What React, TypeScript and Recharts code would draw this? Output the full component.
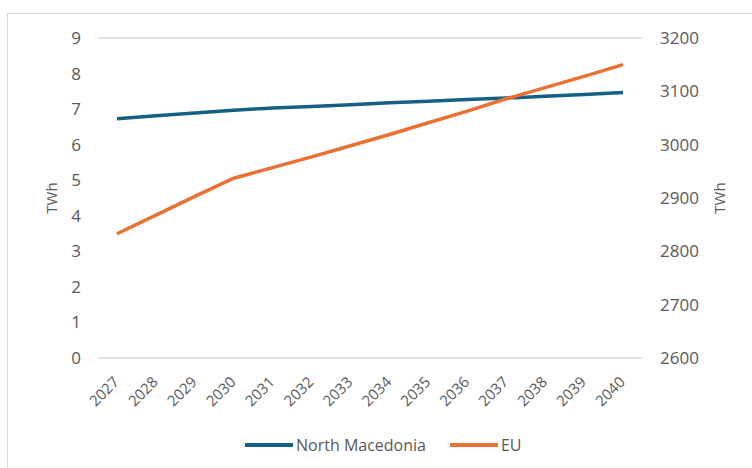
import React from "react";
import { LineChart, Line, XAxis, YAxis, CartesianGrid, Label } from "recharts";

const years = ["2027", "2028", "2029", "2030", "2031", "2032", "2033", "2034", "2035", "2036", "2037", "2038", "2039", "2040"];
const northMacedonia = [6.73, 6.81, 6.89, 6.97, 7.03, 7.07, 7.12, 7.18, 7.22, 7.27, 7.31, 7.36, 7.41, 7.47];
const eu = [2833, 2868, 2903, 2937, 2957, 2977, 2998, 3019, 3041, 3063, 3086, 3107, 3128, 3150];
const leftTicks = [0, 1, 2, 3, 4, 5, 6, 7, 8, 9];
const rightTicks = [2600, 2700, 2800, 2900, 3000, 3100, 3200];

const series = [
  { key: "northMacedonia", name: "North Macedonia", color: "#156082", axis: "left" },
  { key: "eu", name: "EU", color: "#E97132", axis: "right" },
];

const data = years.map((year, i) => ({ year, northMacedonia: northMacedonia[i], eu: eu[i] }));

const FONT = "'Open Sans', sans-serif";
const TEXT = "#595959";
const GRID = "#d9d9d9";

const YearTick = (props: any) => {
  const { x, y, payload } = props;
  const ax = x + 3;
  const ay = y + 25;
  return (
    <text
      x={ax}
      y={ay}
      transform={`rotate(-45 ${ax} ${ay})`}
      textAnchor="end"
      fill={TEXT}
      fontSize={15}
      fontFamily={FONT}
    >
      {payload.value}
    </text>
  );
};

export default function App() {
  return (
    <div
      style={{
        position: "fixed",
        left: 7,
        top: 13,
        width: 760,
        height: 470,
        borderLeft: `1px solid ${GRID}`,
        borderTop: `1px solid ${GRID}`,
        background: "#fff",
      }}
    >
      <LineChart
        width={744}
        height={454}
        data={data}
        margin={{ top: 24, right: 0, bottom: 0, left: 0 }}
      >
        <CartesianGrid vertical={false} stroke={GRID} strokeWidth={1.5} />
        <XAxis
          dataKey="year"
          axisLine={false}
          tickLine={false}
          tickSize={0}
          tickMargin={0}
          interval={0}
          height={110}
          padding={{ left: 19, right: 19 }}
          tick={<YearTick />}
        />
        <YAxis
          yAxisId="left"
          orientation="left"
          width={90}
          domain={[0, 9]}
          ticks={leftTicks}
          axisLine={false}
          tickLine={false}
          tickSize={0}
          tickMargin={17}
          tick={{ fill: TEXT, fontSize: 17, fontFamily: FONT }}
        >
          <Label
            value="TWh"
            angle={-90}
            position="insideLeft"
            offset={44}
            style={{ fill: TEXT, fontSize: 15, fontFamily: FONT, textAnchor: "middle" }}
          />
        </YAxis>
        <YAxis
          yAxisId="right"
          orientation="right"
          width={110}
          domain={[2600, 3200]}
          ticks={rightTicks}
          axisLine={false}
          tickLine={false}
          tickSize={0}
          tickMargin={18}
          tick={{ fill: TEXT, fontSize: 17, fontFamily: FONT }}
        >
          <Label
            value="TWh"
            angle={-90}
            position="insideRight"
            offset={32}
            style={{ fill: TEXT, fontSize: 15, fontFamily: FONT, textAnchor: "middle" }}
          />
        </YAxis>
        {series.map((s) => (
          <Line
            key={s.key}
            yAxisId={s.axis}
            dataKey={s.key}
            name={s.name}
            type="linear"
            stroke={s.color}
            strokeWidth={3.5}
            dot={false}
            isAnimationActive={false}
          />
        ))}
      </LineChart>
      <div
        style={{
          position: "absolute",
          left: 237,
          top: 420,
          display: "flex",
          alignItems: "center",
          fontFamily: FONT,
          fontSize: 16,
          color: TEXT,
          whiteSpace: "nowrap",
        }}
      >
        {series.map((s, i) => (
          <div key={s.key} style={{ display: "flex", alignItems: "center", marginRight: i === 0 ? 24 : 0 }}>
            <span style={{ display: "inline-block", width: 48, height: 4, background: s.color, marginRight: 3 }} />
            <span>{s.name}</span>
          </div>
        ))}
      </div>
    </div>
  );
}
